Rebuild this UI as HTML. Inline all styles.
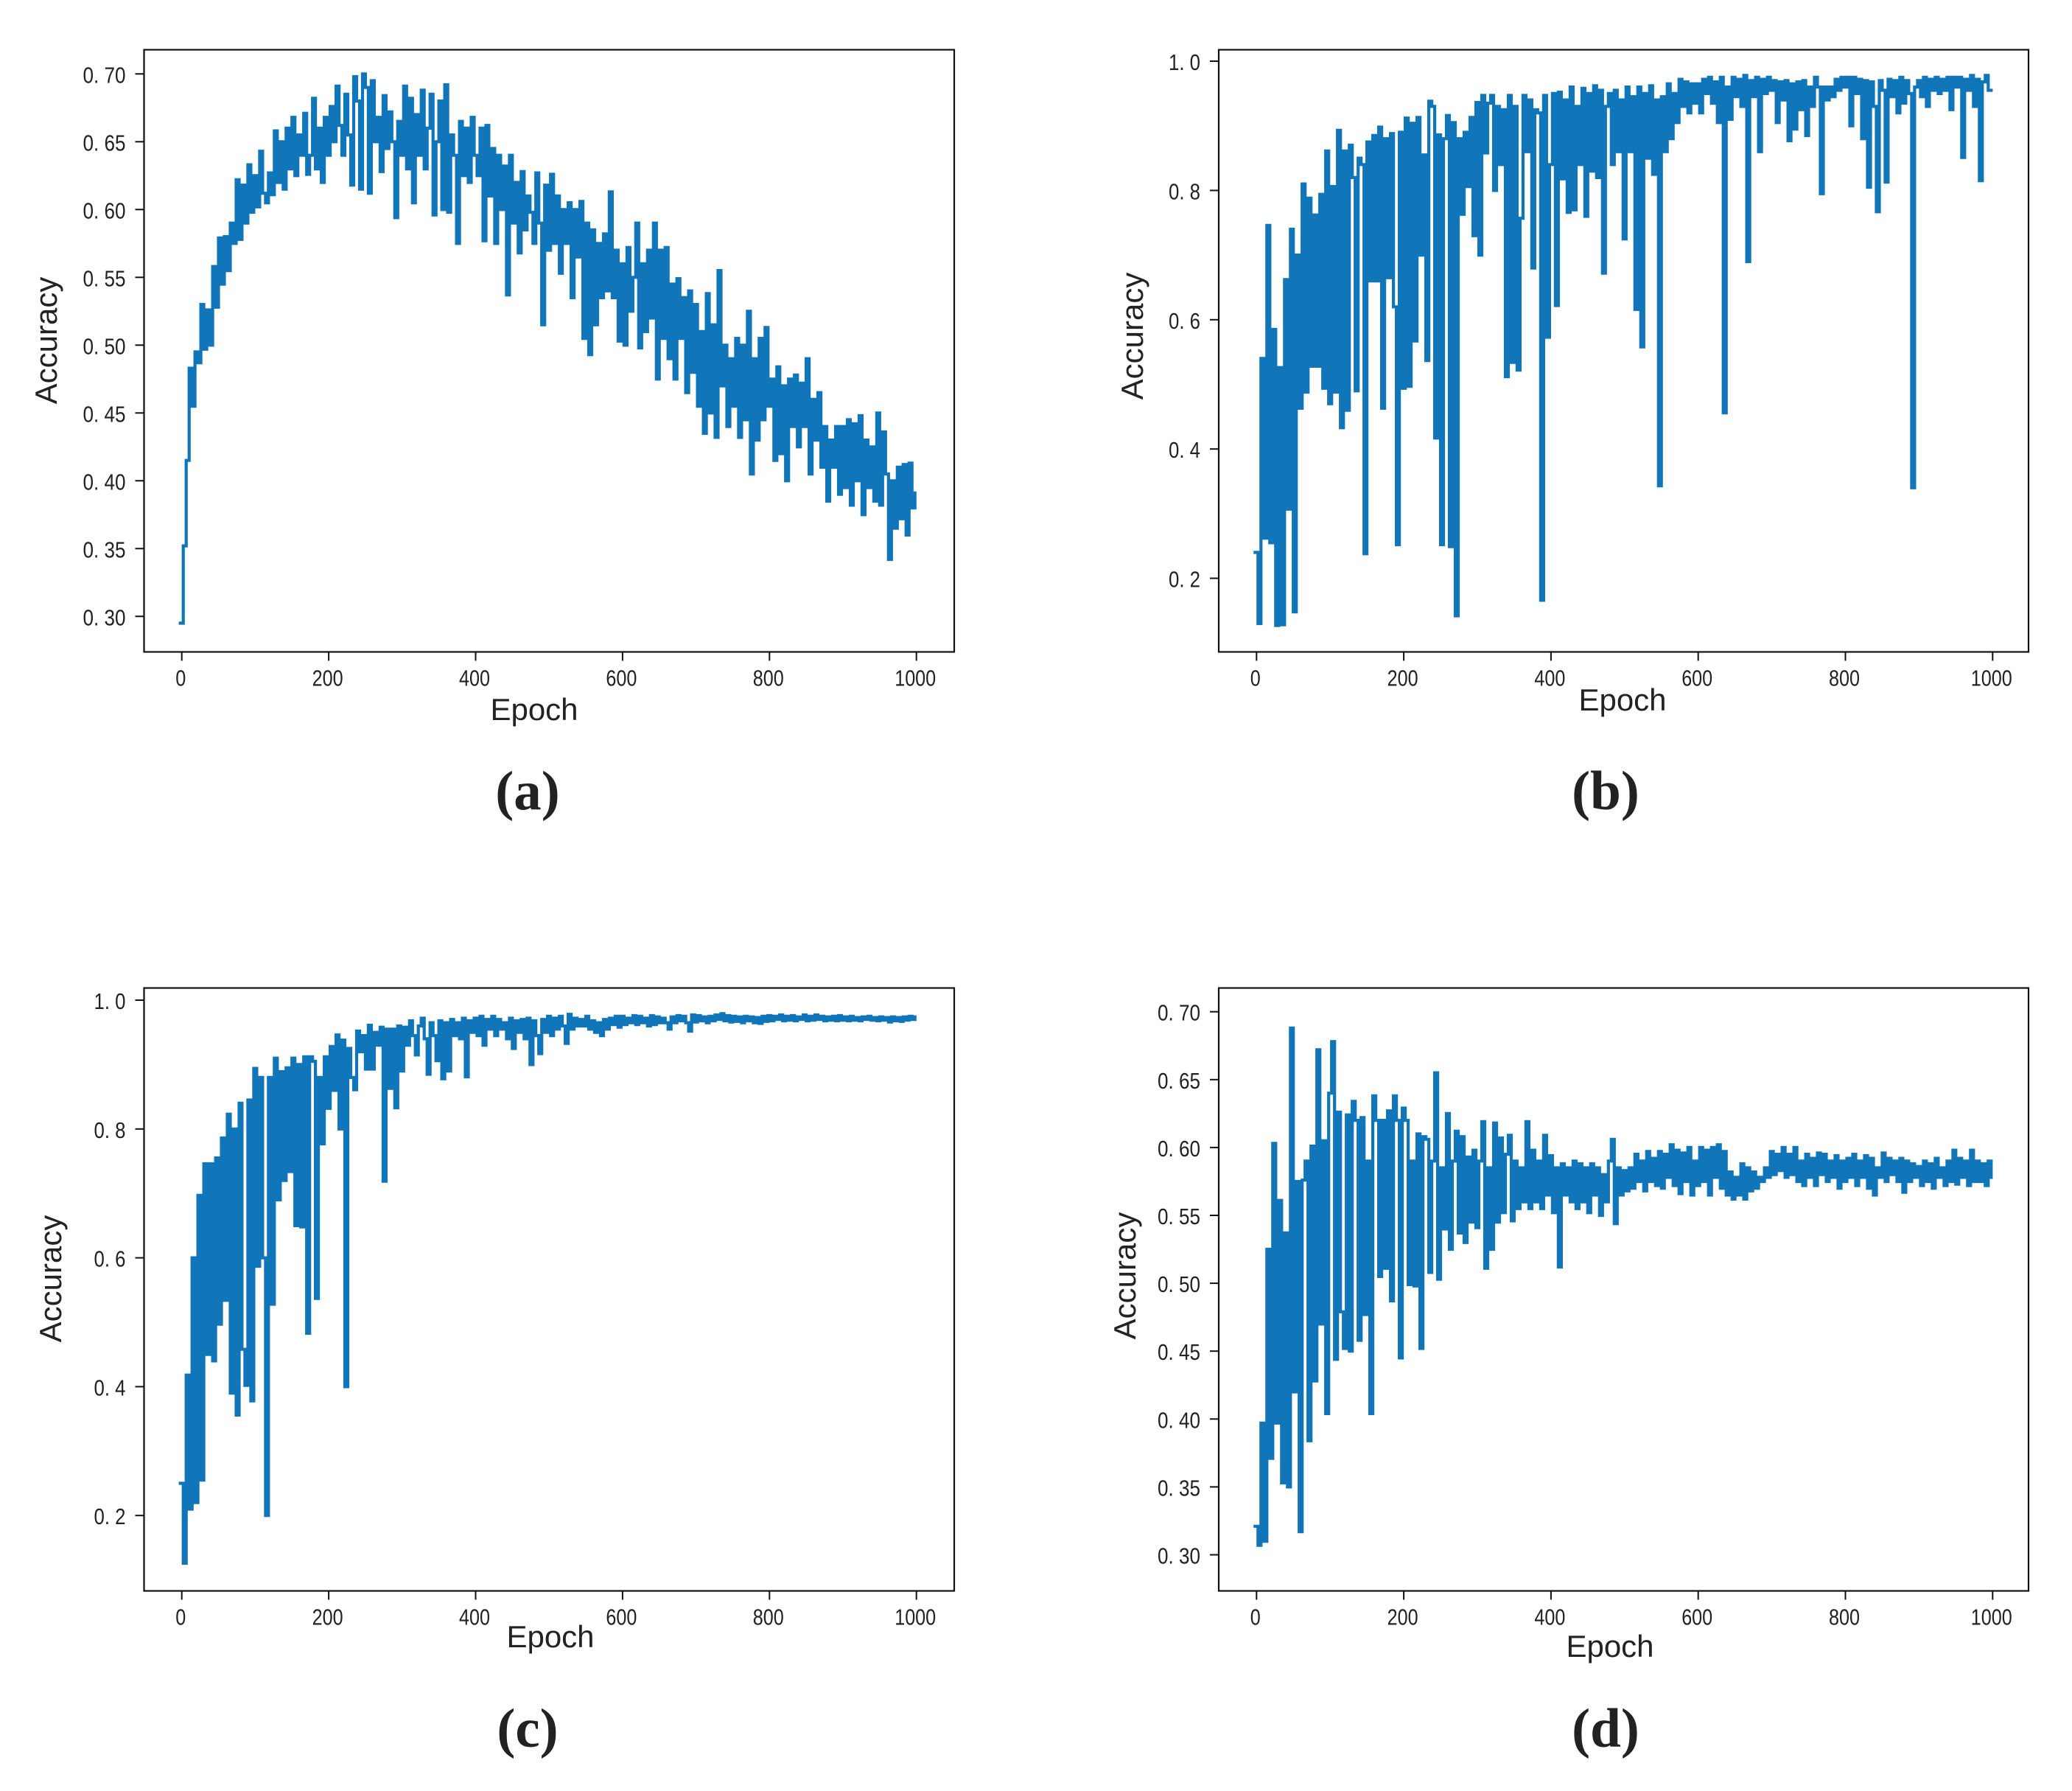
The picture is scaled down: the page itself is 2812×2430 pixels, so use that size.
<!DOCTYPE html>
<html lang="en">
<head>
<meta charset="utf-8">
<title>Accuracy vs Epoch panels</title>
<style>
html,body{margin:0;padding:0;background:#fff;width:2812px;height:2430px;overflow:hidden}
svg{display:block}
text{font-family:"Liberation Sans",sans-serif;fill:#222}
.caption{font-family:"Liberation Serif",serif;font-weight:bold;font-size:75px;fill:#222}
</style>
</head>
<body>
<svg id="figure" width="2812" height="2430" viewBox="0 0 2812 2430" xmlns="http://www.w3.org/2000/svg"></svg>
<script>
const xTicks = [0, 200, 400, 600, 800, 1000];
const yTicksFine = ["0.30", "0.35", "0.40", "0.45", "0.50", "0.55", "0.60", "0.65", "0.70"];
const yTicksCoarse = ["0.2", "0.4", "0.6", "0.8", "1.0"];
const epochStep = 4;

const accuracyA = [
.295,.352,.415,.483,.455,.495,.487,.530,.497,.526,.500,.558,.528,.579,.545,.580,.555,.590,.575,.622,.578,.618,.590,.633,.598,
.625,.602,.643,.612,.605,.627,.611,.658,.620,.650,.615,.660,.630,.668,.625,.655,.640,.671,.626,.640,.682,.630,.660,.620,.668,
.640,.676,.650,.691,.662,.640,.685,.655,.618,.698,.680,.615,.700,.690,.612,.695,.650,.668,.628,.684,.645,.672,.650,.594,.665,
.640,.691,.630,.682,.605,.670,.640,.688,.630,.660,.685,.596,.650,.680,.600,.692,.598,.655,.640,.575,.665,.625,.660,.620,.668,
.640,.625,.660,.577,.662,.610,.645,.575,.640,.600,.632,.537,.640,.590,.620,.568,.628,.585,.610,.598,.575,.627,.590,.515,.618,
.570,.626,.575,.610,.553,.600,.575,.605,.535,.600,.565,.606,.505,.590,.493,.585,.515,.575,.535,.582,.540,.613,.535,.570,.503,
.560,.500,.572,.525,.550,.590,.498,.560,.510,.570,.520,.590,.475,.570,.505,.572,.490,.545,.475,.549,.505,.535,.465,.540,.480,
.530,.455,.510,.435,.538,.450,.515,.432,.555,.470,.500,.440,.490,.455,.505,.432,.500,.445,.525,.405,.490,.430,.505,.445,.513,
.455,.475,.415,.484,.420,.470,.400,.475,.440,.478,.425,.472,.440,.490,.405,.460,.430,.465,.410,.440,.385,.430,.410,.440,.390,
.440,.395,.445,.382,.442,.400,.448,.375,.430,.395,.425,.385,.450,.382,.436,.405,.342,.400,.365,.410,.372,.412,.360,.413,.380,
.391];

const accuracyB = [
.240,.130,.540,.262,.746,.255,.585,.127,.526,.128,.662,.307,.740,.148,.700,.463,.810,.488,.788,.528,.762,.528,.794,.494,.861,
.470,.806,.488,.893,.433,.861,.460,.870,.820,.490,.850,.840,.238,.875,.660,.885,.660,.898,.463,.880,.665,.888,.620,.252,.890,
.494,.912,.497,.904,.567,.913,.700,.855,.537,.938,.930,.417,.886,.252,.880,.916,.249,.905,.142,.880,.763,.890,.806,.913,.730,
.936,.700,.947,.858,.935,.947,.800,.930,.840,.925,.512,.947,.534,.930,.522,.757,.947,.860,.940,.680,.925,.920,.166,.947,.573,
.840,.950,.622,.952,.818,.940,.766,.960,.770,.930,.840,.958,.760,.950,.830,.962,.820,.955,.672,.930,.950,.840,.955,.860,.940,
.725,.960,.860,.945,.616,.960,.558,.950,.850,.962,.825,.940,.343,.945,.860,.965,.880,.950,.905,.972,.930,.968,.920,.965,.935,
.965,.920,.972,.950,.975,.935,.968,.905,.975,.456,.960,.910,.975,.945,.972,.930,.978,.690,.970,.945,.975,.860,.972,.950,.975,
.955,.970,.905,.968,.940,.970,.877,.965,.895,.968,.925,.970,.885,.960,.930,.975,.960,.795,.960,.940,.960,.945,.972,.955,.975,
.960,.975,.900,.975,.950,.972,.880,.970,.805,.968,.930,.767,.970,.955,.813,.972,.945,.970,.920,.975,.935,.970,.950,.340,.960,
.970,.945,.975,.930,.972,.955,.975,.950,.972,.955,.975,.925,.975,.960,.975,.851,.972,.955,.978,.930,.972,.815,.968,.978,.955,
.955];

const accuracyC = [
.250,.126,.418,.210,.600,.220,.697,.255,.746,.450,.746,.440,.755,.497,.786,.534,.823,.390,.800,.356,.840,.458,.402,.845,.378,
.894,.587,.880,.600,.200,.880,.528,.910,.690,.889,.720,.895,.734,.910,.650,.900,.648,.912,.483,.912,.905,.537,.880,.777,.912,
.832,.928,.860,.946,.800,.938,.400,.925,.880,.861,.952,.920,.945,.893,.961,.893,.950,.930,.958,.719,.955,.863,.955,.833,.960,
.890,.958,.930,.968,.945,.915,.960,.972,.940,.885,.965,.945,.906,.968,.878,.965,.890,.970,.945,.965,.940,.972,.881,.968,.950,
.972,.945,.975,.930,.970,.955,.975,.945,.970,.955,.965,.940,.972,.925,.968,.950,.970,.940,.972,.900,.968,.945,.917,.970,.950,
.975,.945,.972,.955,.975,.960,.933,.978,.955,.972,.960,.970,.960,.975,.955,.968,.950,.965,.945,.970,.955,.972,.962,.975,.958,
.975,.962,.972,.965,.976,.962,.975,.965,.972,.960,.976,.962,.974,.965,.972,.965,.955,.974,.965,.976,.968,.975,.965,.952,.977,
.966,.976,.968,.974,.965,.975,.968,.977,.970,.979,.968,.976,.966,.975,.967,.974,.965,.975,.968,.974,.965,.973,.964,.975,.967,
.976,.968,.975,.970,.977,.968,.975,.969,.976,.968,.974,.970,.977,.968,.975,.969,.977,.970,.975,.968,.974,.969,.975,.968,.976,
.969,.974,.968,.975,.969,.973,.968,.974,.970,.975,.969,.973,.968,.974,.969,.973,.966,.974,.968,.973,.967,.974,.969,.975,.970,
.974];

const accuracyD = [
.321,.307,.397,.310,.525,.371,.603,.397,.561,.353,.537,.350,.688,.420,.575,.317,.576,.590,.384,.601,.428,.672,.470,.605,.404,
.640,.678,.444,.626,.479,.452,.624,.450,.634,.620,.458,.622,.477,.590,.404,.638,.620,.505,.620,.511,.627,.487,.638,.620,.445,
.629,.620,.499,.590,.498,.610,.452,.608,.606,.508,.590,.655,.503,.585,.540,.625,.525,.590,.612,.537,.608,.530,.593,.545,.598,
.541,.590,.619,.511,.585,.525,.618,.545,.607,.552,.595,.609,.546,.590,.555,.585,.560,.619,.555,.598,.560,.590,.555,.609,.565,
.594,.552,.585,.512,.588,.565,.585,.560,.590,.555,.588,.560,.585,.552,.588,.565,.585,.550,.580,.560,.590,.606,.544,.585,.565,
.583,.568,.585,.570,.595,.575,.590,.568,.597,.575,.592,.572,.597,.570,.595,.578,.602,.572,.598,.566,.596,.575,.600,.565,.590,
.572,.600,.575,.598,.565,.600,.578,.602,.570,.597,.565,.582,.562,.578,.565,.588,.562,.585,.568,.582,.570,.578,.575,.585,.578,
.597,.580,.595,.583,.600,.578,.595,.580,.600,.575,.590,.572,.595,.578,.592,.572,.596,.580,.595,.575,.590,.578,.594,.570,.590,
.575,.592,.578,.595,.572,.590,.578,.594,.570,.592,.565,.585,.578,.596,.575,.592,.580,.590,.575,.592,.567,.590,.575,.588,.578,
.586,.572,.590,.575,.588,.570,.592,.578,.585,.572,.590,.575,.598,.573,.592,.578,.590,.572,.598,.575,.590,.575,.588,.572,.590,
.578];

const svgNS = "http://www.w3.org/2000/svg";
const figure = document.getElementById("figure");
const lineOffset = -2;

function add(parent, tag, props, content) {
  const el = document.createElementNS(svgNS, tag);
  for (const k in props) el.setAttribute(k, props[k]);
  if (content !== undefined) el.textContent = content;
  parent.appendChild(el);
  return el;
}

function drawPanel(cfg) {
  const group = add(figure, "g", {});
  
  

  const xScale = function (e) { return cfg.x0 + cfg.xPerEpoch * e; };
  const yScale = function (v) { return cfg.yTop + (cfg.vTop - v) * cfg.yPerUnit; };

  // series line: each sample-to-sample change is a vertical stroke, so the
  // dense oscillation fills into a solid band as in the reference
  let d = "";
  cfg.values.forEach(function (v, i) {
    const px = (xScale(i * epochStep) + lineOffset).toFixed(1);
    d += (i ? "H" + px + "V" : "M" + px + " ") + yScale(v).toFixed(1);
  });
  const line = add(group, "path", {d: d, fill: "none", stroke: "#1175b9", "stroke-width": 4.2, "stroke-linejoin": "miter", "stroke-linecap": "square"});
  
  

  // frame
  const frame = add(group, "rect", {x: cfg.left, y: cfg.top, width: cfg.right - cfg.left, height: cfg.bottom - cfg.top, fill: "none", stroke: "#111", "stroke-width": 2.2});
  
  

  // x ticks
  xTicks.forEach(function (t) {
    const tx = xScale(t);
    const tick = add(group, "line", {x1: tx, x2: tx, y1: cfg.bottom, y2: cfg.bottom + 12, stroke: "#111", "stroke-width": 2});
    
    
    const s = String(t);
    const lab = add(group, "text", {x: tx - 1.5, y: cfg.bottom + 46, "text-anchor": "middle", "font-size": 31, textLength: s.length * 14, lengthAdjust: "spacingAndGlyphs"}, s);
    
    
  });

  // y ticks
  cfg.yTicks.forEach(function (t) {
    const ty = yScale(parseFloat(t));
    const tick = add(group, "line", {x1: cfg.left - 12, x2: cfg.left, y1: ty, y2: ty, stroke: "#111", "stroke-width": 2});
    
    
    const s = t.replace(".", ". ");
    const w = t.length === 4 ? 58 : 43;
    const lab = add(group, "text", {x: cfg.left - 25 - w, y: ty + 12, "font-size": 31, textLength: w, lengthAdjust: "spacingAndGlyphs", "xml:space": "preserve"}, s);
    
    
  });

  // axis titles
  const xTitle = add(group, "text", {x: cfg.epochX, y: cfg.epochY, "text-anchor": "middle", "font-size": 42}, "Epoch");
  
  
  const yTitle = add(group, "text", {x: 0, y: 0, "text-anchor": "middle", "font-size": 42, transform: "translate(" + cfg.accX + " " + cfg.accY + ") rotate(-90)"}, "Accuracy");
  
  

  // caption
  const cap = add(group, "text", {x: cfg.capX, y: cfg.capY, "text-anchor": "middle", "class": "caption"}, "(" + cfg.id + ")");
  
  
}

drawPanel({id: "a", values: accuracyA, yTicks: yTicksFine,
  left: 195.5, right: 1295, top: 67.5, bottom: 884.5,
  x0: 246.7, xPerEpoch: 0.997, yTop: 100.3, vTop: 0.70, yPerUnit: 1840,
  epochX: 725, epochY: 977, accX: 77, accY: 462, capX: 716, capY: 1098});
drawPanel({id: "b", values: accuracyB, yTicks: yTicksCoarse,
  left: 1654, right: 2753, top: 67.5, bottom: 884.5,
  x0: 1705.3, xPerEpoch: 0.999, yTop: 83, vTop: 1.0, yPerUnit: 877,
  epochX: 2202, epochY: 964, accX: 1551, accY: 456, capX: 2179, capY: 1098});
drawPanel({id: "c", values: accuracyC, yTicks: yTicksCoarse,
  left: 195.5, right: 1295, top: 1340.5, bottom: 2158.5,
  x0: 246.7, xPerEpoch: 0.997, yTop: 1357, vTop: 1.0, yPerUnit: 874,
  epochX: 747, epochY: 2235, accX: 83, accY: 1735, capX: 716, capY: 2370});
drawPanel({id: "d", values: accuracyD, yTicks: yTicksFine,
  left: 1654, right: 2753, top: 1340.5, bottom: 2158.5,
  x0: 1705.3, xPerEpoch: 0.999, yTop: 1372.7, vTop: 0.70, yPerUnit: 1842,
  epochX: 2185, epochY: 2248, accX: 1541, accY: 1731, capX: 2179, capY: 2370});
</script>
</body>
</html>
